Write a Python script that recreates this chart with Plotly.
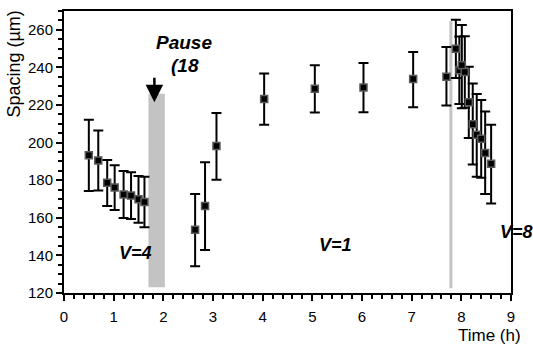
import plotly.graph_objects as go

# Data
time_h = [0.50, 0.69, 0.87, 1.02, 1.20, 1.35, 1.50, 1.62,
          2.64, 2.84, 3.07, 4.03, 5.05, 6.03, 7.03, 7.70,
          7.89, 7.96, 8.01, 8.07, 8.15, 8.23, 8.31, 8.40, 8.48, 8.60]
spacing = [193.3, 190.5, 178.7, 176.1, 172.4, 171.8, 169.9, 168.4,
           153.6, 166.3, 198.2, 223.2, 228.7, 229.3, 233.8, 235.0,
           249.9, 238.5, 241.1, 237.6, 221.4, 209.8, 204.2, 202.1, 194.5, 188.7]
err_plus = [18.8, 16.0, 12.1, 11.8, 12.5, 12.4, 12.3, 13.5,
            19.0, 23.2, 17.6, 13.5, 12.5, 13.1, 14.4, 15.8,
            15.5, 18.0, 21.5, 19.0, 18.9, 21.6, 21.7, 20.6, 22.0, 20.8]
err_minus = [19.1, 16.0, 12.4, 12.0, 12.5, 12.4, 12.5, 13.4,
             19.4, 23.4, 17.9, 13.7, 12.7, 13.1, 15.0, 15.3,
             15.5, 18.0, 22.8, 19.0, 19.0, 21.4, 22.3, 20.8, 21.9, 21.1]

x_ticks = [0, 1, 2, 3, 4, 5, 6, 7, 8, 9]
y_ticks = [120, 140, 160, 180, 200, 220, 240, 260]

# Shaded periods (hours) and their vertical extent
pause_band = (1.70, 2.03, 123, 226)
change_band = (7.76, 7.82, 122.5, 264.5)

FONT = "Arial, 'Liberation Sans', sans-serif"

fig = go.Figure()

for x0, x1, y0, y1 in (pause_band, change_band):
    fig.add_shape(type="rect", x0=x0, x1=x1, y0=y0, y1=y1,
                  xref="x", yref="y", fillcolor="#c3c3c3",
                  line=dict(width=0), layer="below")

fig.add_trace(go.Scatter(
    x=time_h, y=spacing, mode="markers",
    marker=dict(symbol="square", size=7, color="black",
                line=dict(color="#5a5a5a", width=1.5)),
    error_y=dict(type="data", symmetric=False, array=err_plus,
                 arrayminus=err_minus, color="black", thickness=2, width=5),
    showlegend=False,
))

# Text labels
fig.add_annotation(x=2.42, y=253.4, text="<b><i>Pause</i></b>", showarrow=False,
                   font=dict(family=FONT, size=19, color="black"))
fig.add_annotation(x=2.44, y=240.8, text="<b><i>(18</i></b>", showarrow=False,
                   font=dict(family=FONT, size=19, color="black"))
fig.add_annotation(x=1.43, y=141.1, text="<b><i>V=4</i></b>", showarrow=False,
                   font=dict(family=FONT, size=18, color="black"))
fig.add_annotation(x=5.46, y=145.3, text="<b><i>V=1</i></b>", showarrow=False,
                   font=dict(family=FONT, size=18, color="black"))
fig.add_annotation(xref="paper", yref="y", x=0.972, y=152.7, text="<b><i>V=8</i></b>",
                   showarrow=False, xanchor="left",
                   font=dict(family=FONT, size=18, color="black"))

# Arrow pointing at pause
fig.add_annotation(x=1.82, y=221.5, ax=0, ay=-26, text="", showarrow=True,
                   arrowhead=2, arrowsize=1.4, arrowwidth=2.5, arrowcolor="black")

# Axis titles
fig.add_annotation(xref="paper", yref="paper", x=-0.112, y=1.01,
                   text="Spacing (µm)", showarrow=False, textangle=-90,
                   xanchor="center", yanchor="top",
                   font=dict(family=FONT, size=18, color="black"))
fig.add_annotation(xref="paper", yref="paper", x=1.026, y=-0.151,
                   text="Time (h)", showarrow=False, xanchor="right", yanchor="middle",
                   font=dict(family=FONT, size=17, color="black"))

axis_common = dict(showline=True, linewidth=2, linecolor="black", mirror=True,
                   ticks="outside", tickwidth=1.5, tickcolor="black", ticklen=6,
                   showgrid=False, zeroline=False,
                   tickfont=dict(family=FONT, size=15, color="black"))

fig.update_xaxes(range=[0, 9], tickvals=x_ticks, ticktext=[str(v) for v in x_ticks],
                 ticklabelstandoff=3,
                 minor=dict(dtick=0.2, ticks="outside", ticklen=4, tickwidth=1.5,
                            tickcolor="black"),
                 **axis_common)
fig.update_yaxes(range=[120, 270], tickvals=y_ticks, ticktext=[str(v) for v in y_ticks],
                 minor=dict(dtick=5, ticks="outside", ticklen=4, tickwidth=1.5,
                            tickcolor="black"),
                 **axis_common)

fig.update_layout(width=533, height=347,
                  margin=dict(l=64, r=22, t=9, b=54),
                  plot_bgcolor="white", paper_bgcolor="white",
                  font=dict(family=FONT, color="black"))

fig.write_html("out.html", config={"displayModeBar": False},
               post_script="document.body.style.margin='0';document.body.style.padding='0';")
